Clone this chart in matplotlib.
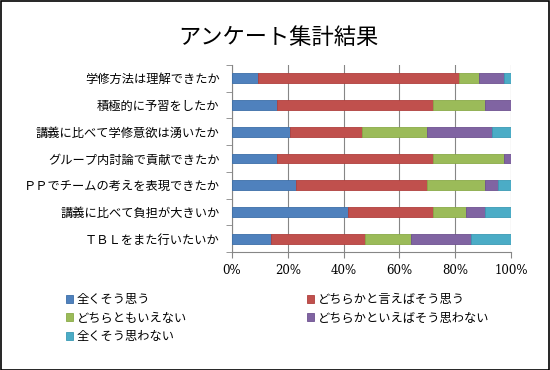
import numpy as np
import matplotlib.pyplot as plt
from matplotlib.patches import Rectangle

plt.rcParams['font.family'] = ['Noto Sans CJK JP', 'DejaVu Sans']

questions = ["学修方法は理解できたか", "積極的に予習をしたか", "講義に比べて学修意欲は湧いたか",
             "グループ内討論で貢献できたか", "ＰＰでチームの考えを表現できたか",
             "講義に比べて負担が大きいか", "ＴＢＬをまた行いたいか"]
series = ["全くそう思う", "どちらかと言えばそう思う", "どちらともいえない",
          "どちらかといえばそう思わない", "全くそう思わない"]
# percentages, one list per answer, in question order
agree_full = [9.3, 16.1, 20.7, 16.1, 23.0, 41.6, 14.1]
agree_some = [72.2, 56.0, 25.8, 56.0, 46.9, 30.5, 33.5]
neutral = [7.0, 18.7, 23.4, 25.5, 20.9, 11.9, 16.6]
disagree_some = [9.1, 9.2, 23.3, 2.4, 4.5, 6.8, 21.6]
disagree_full = [2.4, 0.0, 6.8, 0.0, 4.7, 9.2, 14.2]
colors = ["#4F81BD", "#C0504D", "#9BBB59", "#8064A2", "#4BACC6"]
edges = ["#3C6EA8", "#B0403D", "#8AAA48", "#6E5290", "#3A9AB4"]

data = [agree_full, agree_some, neutral, disagree_some, disagree_full]

fig = plt.figure(figsize=(5.5, 3.7), dpi=100)
ax = fig.add_axes([232/550, 1-252/370, 279/550, 187/370])

y = np.arange(len(questions))[::-1]
left = np.zeros(len(questions))
handles = []
for vals, name, c, ec in zip(data, series, colors, edges):
    vals = np.array(vals)
    h = ax.barh(y, vals, left=left, height=0.37, color=c, edgecolor=ec, linewidth=0.6,
                label=name, zorder=3)
    handles.append(h)
    left += vals

ax.set_xlim(0, 100)
ax.set_ylim(-0.5, len(questions) - 0.5)
ax.set_xticks([0, 20, 40, 60, 80, 100])
ax.set_xticklabels(["0%", "20%", "40%", "60%", "80%", "100%"], family="DejaVu Serif", fontsize=8.5)
ax.set_yticks(y)
ax.set_yticklabels(questions, fontsize=8.8)
ax.set_yticks(np.arange(-0.5, len(questions), 1), minor=True)
ax.tick_params(axis='y', which='major', length=0, pad=9)
ax.tick_params(axis='y', which='minor', length=4, color='#868686')
ax.tick_params(axis='x', length=4, color='#868686', pad=5)
ax.grid(axis='x', color='#868686', linewidth=0.8, zorder=0)
for s in ['top', 'right']:
    ax.spines[s].set_visible(False)
for s in ['left', 'bottom']:
    ax.spines[s].set_color('#868686')

fig.text(278/550, 1-37/370, "アンケート集計結果", ha='center', va='center', fontsize=16)

order = [0, 2, 4, 1, 3]
fig.legend([handles[i] for i in order], [series[i] for i in order], ncol=2,
           loc='upper left', bbox_to_anchor=(66/550, 1-293/370), frameon=False,
           fontsize=8.8, handlelength=0.6, handleheight=0.6, handletextpad=0.3,
           labelspacing=0.45, columnspacing=9.8, borderaxespad=0, borderpad=0)

fig.patches.append(Rectangle((0.001, 0.001), 0.997, 0.997, transform=fig.transFigure,
                             fill=False, edgecolor='black', linewidth=1.2))

fig.savefig("out.png", dpi=100)
